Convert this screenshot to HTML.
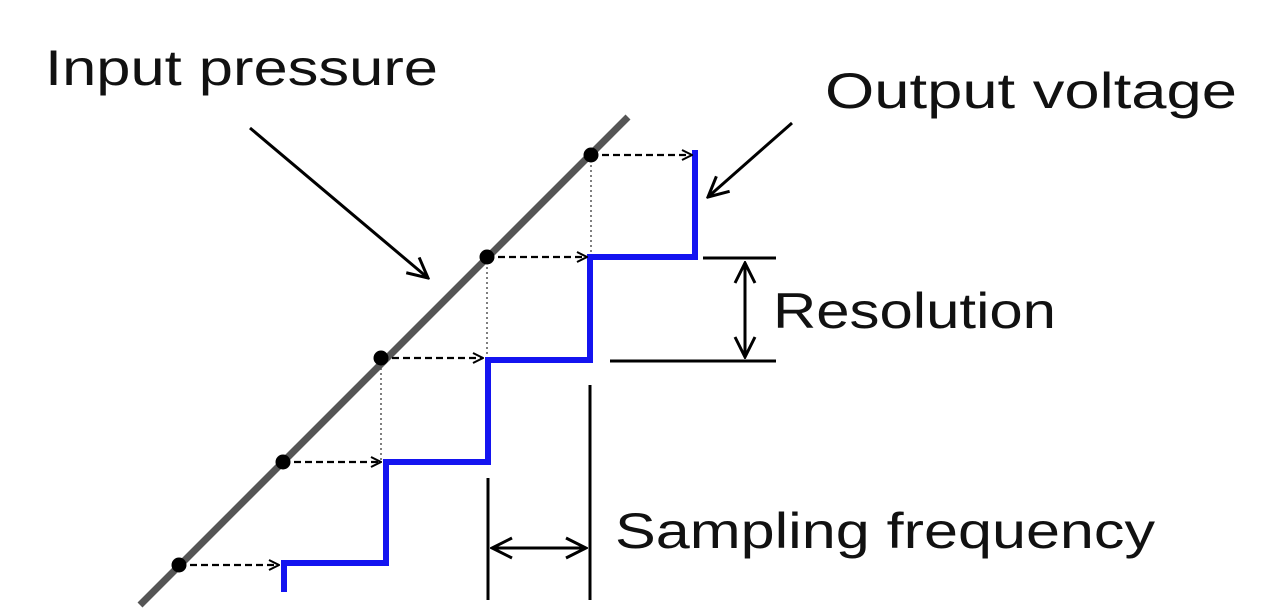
<!DOCTYPE html>
<html><head><meta charset="utf-8"><style>html,body{margin:0;padding:0;background:#fff}svg{display:block}</style></head>
<body>
<svg width="1280" height="608" viewBox="0 0 1280 608" xmlns="http://www.w3.org/2000/svg">
<defs>
<marker id="oa" viewBox="0 0 12 12" refX="11" refY="6" markerWidth="12" markerHeight="12" markerUnits="userSpaceOnUse" orient="auto-start-reverse"><path d="M1,1 L11,6 L1,11" fill="none" stroke="#000" stroke-width="2"/></marker>
<marker id="ob" viewBox="0 0 24 24" refX="22" refY="12" markerWidth="24" markerHeight="24" markerUnits="userSpaceOnUse" orient="auto-start-reverse"><path d="M2,2 L22,12 L2,22" fill="none" stroke="#000" stroke-width="3"/></marker>
</defs>
<g font-family="Liberation Sans, sans-serif" font-size="50" fill="#111">
<text x="45" y="85" textLength="393" lengthAdjust="spacingAndGlyphs">Input pressure</text>
<text x="825" y="108" textLength="412" lengthAdjust="spacingAndGlyphs">Output voltage</text>
<text x="773" y="328" textLength="283" lengthAdjust="spacingAndGlyphs">Resolution</text>
<text x="615" y="548" textLength="540" lengthAdjust="spacingAndGlyphs">Sampling frequency</text>
</g>
<line x1="140" y1="605" x2="628" y2="117" stroke="#555" stroke-width="7"/>
<g stroke="#555" stroke-width="1.5" stroke-dasharray="2,3">
<line x1="381" y1="358" x2="381" y2="462"/>
<line x1="487" y1="257" x2="487" y2="360"/>
<line x1="591" y1="155" x2="591" y2="257"/>
</g>
<polyline points="284,592 284,563 386,563 386,462 488,462 488,360 590,360 590,257 695,257 695,150" fill="none" stroke="#1414f0" stroke-width="6"/>
<g stroke="#000" stroke-width="2.3" stroke-dasharray="7,4" marker-end="url(#oa)">
<line x1="179" y1="565" x2="279" y2="565"/>
<line x1="283" y1="462" x2="381" y2="462"/>
<line x1="381" y1="358" x2="483" y2="358"/>
<line x1="487" y1="257" x2="587" y2="257"/>
<line x1="591" y1="155" x2="692" y2="155"/>
</g>
<g fill="#000">
<circle cx="179" cy="565" r="7.5"/><circle cx="283" cy="462" r="7.5"/><circle cx="381" cy="358" r="7.5"/><circle cx="487" cy="257" r="7.5"/><circle cx="591" cy="155" r="7.5"/>
</g>
<g stroke="#000" stroke-width="3">
<line x1="703" y1="258" x2="776" y2="258"/>
<line x1="610" y1="361" x2="776" y2="361"/>
<line x1="745" y1="263" x2="745" y2="357" marker-start="url(#ob)" marker-end="url(#ob)"/>
<line x1="488" y1="478" x2="488" y2="600"/>
<line x1="590" y1="385" x2="590" y2="600"/>
<line x1="492" y1="548" x2="586" y2="548" marker-start="url(#ob)" marker-end="url(#ob)"/>
<line x1="250" y1="128" x2="428" y2="278" marker-end="url(#ob)"/>
<line x1="792" y1="123" x2="708" y2="197" marker-end="url(#ob)"/>
</g>
</svg>
</body></html>
